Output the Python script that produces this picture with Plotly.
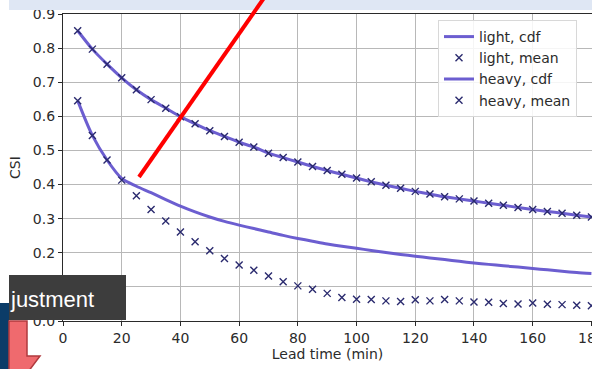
import plotly.graph_objects as go

# ---- data ----
lead_time = list(range(5, 185, 5))

light_cdf = [0.851, 0.797, 0.753, 0.713, 0.678, 0.649, 0.624, 0.599, 0.578, 0.558,
             0.541, 0.524, 0.510, 0.492, 0.479, 0.466, 0.453, 0.441, 0.430, 0.419,
             0.408, 0.398, 0.389, 0.380, 0.372, 0.364, 0.358, 0.352, 0.345, 0.339,
             0.333, 0.327, 0.321, 0.316, 0.310, 0.305]
light_mean = [0.851, 0.797, 0.753, 0.713, 0.678, 0.649, 0.624, 0.599, 0.578, 0.558,
              0.541, 0.524, 0.510, 0.492, 0.479, 0.466, 0.453, 0.441, 0.430, 0.419,
              0.408, 0.398, 0.389, 0.380, 0.372, 0.364, 0.358, 0.352, 0.345, 0.339,
              0.333, 0.327, 0.321, 0.316, 0.310, 0.305]
heavy_cdf = [0.646, 0.544, 0.472, 0.418, 0.395, 0.376, 0.356, 0.337, 0.320, 0.305,
             0.292, 0.281, 0.271, 0.261, 0.251, 0.242, 0.234, 0.226, 0.219, 0.213,
             0.207, 0.201, 0.195, 0.190, 0.185, 0.180, 0.175, 0.170, 0.166, 0.162,
             0.158, 0.154, 0.150, 0.146, 0.142, 0.139]
heavy_mean = [0.646, 0.544, 0.472, 0.413, 0.367, 0.327, 0.293, 0.261, 0.232, 0.206,
              0.183, 0.164, 0.149, 0.132, 0.115, 0.103, 0.093, 0.081, 0.069, 0.064,
              0.063, 0.059, 0.057, 0.062, 0.059, 0.063, 0.059, 0.056, 0.055, 0.051,
              0.050, 0.053, 0.049, 0.048, 0.046, 0.045]

x_ticks = [0, 20, 40, 60, 80, 100, 120, 140, 160, 180]
y_ticks = [0.0, 0.1, 0.2, 0.3, 0.4, 0.5, 0.6, 0.7, 0.8, 0.9]

# ---- style ----
W, H = 592, 369
L, R, T, B = 63, 0, 14, 48
LINE_C = "rgba(100,85,205,0.95)"
MARK_C = "#2a2a6e"
FONT = "DejaVu Sans"
FS = 14

fig = go.Figure()
fig.add_trace(go.Scatter(x=lead_time, y=light_cdf, mode="lines", name="light, cdf",
                         line=dict(color=LINE_C, width=3, shape="spline", smoothing=0.6)))
fig.add_trace(go.Scatter(x=lead_time, y=light_mean, mode="markers", name="light, mean",
                         marker=dict(symbol="x-thin", size=7, line=dict(width=1.4, color=MARK_C))))
fig.add_trace(go.Scatter(x=lead_time, y=heavy_cdf, mode="lines", name="heavy, cdf",
                         line=dict(color=LINE_C, width=3, shape="spline", smoothing=0.8)))
fig.add_trace(go.Scatter(x=lead_time, y=heavy_mean, mode="markers", name="heavy, mean",
                         marker=dict(symbol="x-thin", size=7, line=dict(width=1.4, color=MARK_C))))

pw, ph = W - L - R, H - T - B


def px_x(p):
    return (p - L) / pw


def px_y(p):
    return (H - B - p) / ph


shapes = [
    # top light band
    dict(type="rect", xref="paper", yref="paper", x0=px_x(9), x1=px_x(W + 5),
         y0=px_y(10), y1=px_y(-5), fillcolor="#dfe7f4", line=dict(width=0), layer="above"),
    # red diagonal line
    dict(type="line", xref="paper", yref="paper", x0=px_x(139), y0=px_y(177),
         x1=px_x(264), y1=px_y(-2), line=dict(color="#ff0000", width=4), layer="above"),
    # dark blue block
    dict(type="rect", xref="paper", yref="paper", x0=px_x(-2), x1=px_x(9),
         y0=px_y(372), y1=px_y(303), fillcolor="#0b3c68", line=dict(width=0), layer="above"),
    # dark gray label box
    dict(type="rect", xref="paper", yref="paper", x0=px_x(9), x1=px_x(126),
         y0=px_y(320), y1=px_y(275), fillcolor="#3d3d3d", line=dict(width=0), layer="above"),
    # salmon arrow
    dict(type="path", xref="paper", yref="paper",
         path=(f"M {px_x(9)},{px_y(321)} L {px_x(27)},{px_y(321)} L {px_x(27)},{px_y(356)} "
               f"L {px_x(40)},{px_y(356)} L {px_x(28)},{px_y(372)} L {px_x(9)},{px_y(372)} Z"),
         fillcolor="#ef6a6e", line=dict(color="#b03a3e", width=1.5), layer="above"),
]

annotations = [
    dict(text="justment", xref="paper", yref="paper", x=px_x(8), y=px_y(299),
         xanchor="left", yanchor="middle", showarrow=False,
         font=dict(family="Liberation Sans", size=22, color="#ffffff")),
]

axis_common = dict(showline=True, linecolor="#2a2a2a", linewidth=1.2, mirror=True,
                   showgrid=True, gridcolor="#b8b8b8", gridwidth=1,
                   ticks="outside", ticklen=4, tickwidth=1, tickcolor="#2a2a2a",
                   zeroline=False, automargin=False,
                   tickfont=dict(family=FONT, size=FS, color="#2b2b2b"))

fig.update_layout(
    width=W, height=H,
    margin=dict(l=L, r=R, t=T, b=B, autoexpand=False),
    paper_bgcolor="white", plot_bgcolor="white",
    font=dict(family=FONT, size=FS, color="#2b2b2b"),
    xaxis=dict(range=[0, 180.2], tickvals=x_ticks, ticktext=[str(v) for v in x_ticks],
               ticklabeloverflow="allow",
               title=dict(text="Lead time (min)", standoff=2, font=dict(size=FS)),
               **axis_common),
    yaxis=dict(range=[0, 0.9], tickvals=y_ticks, ticktext=[f"{v:.1f}" for v in y_ticks],
               title=dict(text="CSI", standoff=8, font=dict(size=FS)),
               **axis_common),
    legend=dict(x=px_x(438), y=px_y(20), xanchor="left", yanchor="top",
                bgcolor="rgba(255,255,255,0.85)", bordercolor="#d8d8d8", borderwidth=1,
                font=dict(family=FONT, size=FS, color="#2b2b2b"),
                itemwidth=30, tracegroupgap=0),
    shapes=shapes,
    annotations=annotations,
    showlegend=True,
)

fig.write_html("out.html", config={"displayModeBar": False},
               post_script="document.body.style.margin='0';document.body.style.overflow='hidden';")
